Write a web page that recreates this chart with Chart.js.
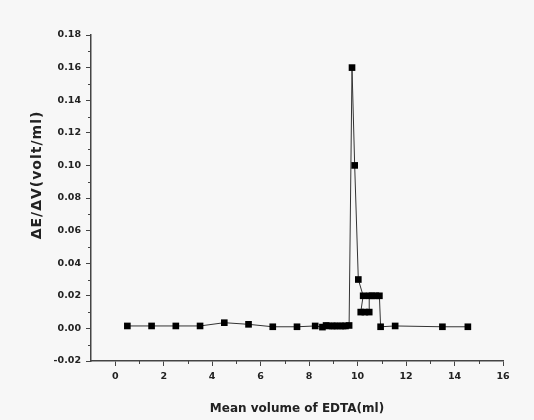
<!DOCTYPE html>
<html>
<head>
<meta charset="utf-8">
<script src="https://cdn.jsdelivr.net/npm/chart.js@4/dist/chart.umd.min.js"></script>
<style>
  html, body { margin: 0; padding: 0; background: #f7f7f7; }
  canvas { display: block; }
</style>
</head>
<body>
<canvas id="chart" width="534" height="420"></canvas>
<script>
// Mean volume of EDTA (ml) and dE/dV (volt/ml), in titration order
const volumes = [
    0.5, 1.5, 2.5, 3.5, 4.5, 5.5, 6.5, 7.5,
    8.25, 8.55, 8.7, 8.8, 8.95, 9.05, 9.15, 9.3, 9.4, 9.5, 9.65,
    9.77, 9.88, 10.03,
    10.23, 10.13, 10.3, 10.48, 10.48, 10.6, 10.75, 10.9,
    10.95, 11.55, 13.5, 14.55
];
const dEdV = [
    0.0015, 0.0015, 0.0015, 0.0015, 0.0035, 0.0025, 0.001, 0.001,
    0.0015, 0.0008, 0.0018, 0.0015, 0.0015, 0.0015, 0.0015, 0.0015, 0.0015, 0.0015, 0.0018,
    0.16, 0.10, 0.03,
    0.02, 0.01, 0.01, 0.01, 0.02, 0.02, 0.02, 0.02,
    0.001, 0.0015, 0.001, 0.001
];

const xTitle = 'Mean volume of EDTA(ml)';
const yTitle = 'ΔE/ΔV(volt/ml)';
const xMinorTicks = [1, 3, 5, 7, 9, 11, 13, 15];
const yMinorTicks = [-0.01, 0.01, 0.03, 0.05, 0.07, 0.09, 0.11, 0.13, 0.15, 0.17];

const axisColor = '#444';
const fontFamily = '"DejaVu Sans", Verdana, sans-serif';

// minor ticks, drawn outward through the scales
const minorTicks = {
    id: 'minorTicks',
    afterDraw(chart) {
        const ctx = chart.ctx;
        const xs = chart.scales.x, ys = chart.scales.y;
        ctx.save();
        ctx.strokeStyle = axisColor;
        ctx.lineWidth = 1;
        ctx.beginPath();
        xMinorTicks.forEach(v => {
            const px = Math.round(xs.getPixelForValue(v)) + 0.5;
            ctx.moveTo(px, xs.top);
            ctx.lineTo(px, xs.top + 3);
        });
        yMinorTicks.forEach(v => {
            const py = Math.round(ys.getPixelForValue(v)) + 0.5;
            ctx.moveTo(ys.right, py);
            ctx.lineTo(ys.right - 3, py);
        });
        ctx.stroke();
        ctx.restore();
    }
};

// y axis title sits a bit above the middle in the original
const yTitlePlugin = {
    id: 'yTitle',
    afterDraw(chart) {
        const ctx = chart.ctx;
        ctx.save();
        ctx.translate(37, 175);
        ctx.rotate(-Math.PI / 2);
        ctx.font = 'bold 14px ' + fontFamily;
        ctx.letterSpacing = '1px';
        ctx.fillStyle = '#222';
        ctx.textAlign = 'center';
        ctx.textBaseline = 'middle';
        ctx.fillText(yTitle, 0, 0);
        ctx.restore();
    }
};

new Chart(document.getElementById('chart').getContext('2d'), {
    type: 'line',
    data: {
        datasets: [{
            data: volumes.map((v, i) => ({ x: v, y: dEdV[i] })),
            borderColor: '#333',
            borderWidth: 1,
            backgroundColor: '#000',
            pointBackgroundColor: '#000',
            pointBorderColor: '#000',
            pointBorderWidth: 0,
            pointStyle: 'rect',
            pointRadius: 4.7,
            tension: 0,
            fill: false
        }]
    },
    options: {
        responsive: false,
        animation: false,
        devicePixelRatio: 1,
        layout: { padding: { left: 0, right: 31, top: 35, bottom: 0 } },
        plugins: {
            legend: { display: false },
            tooltip: { enabled: false }
        },
        scales: {
            x: {
                type: 'linear',
                min: -1,
                max: 16,
                afterFit: s => { s.height = 59; },
                border: { display: true, color: axisColor, width: 1.5 },
                grid: { drawOnChartArea: false, drawTicks: true, tickLength: 5, color: axisColor },
                ticks: {
                    stepSize: 2,
                    includeBounds: false,
                    padding: 5,
                    color: '#222',
                    font: { family: fontFamily, size: 9.5, weight: 'bold' },
                    maxRotation: 0
                },
                title: {
                    display: true,
                    text: xTitle,
                    color: '#222',
                    font: { family: fontFamily, size: 12, weight: 'bold' }
                }
            },
            y: {
                min: -0.02,
                max: 0.18,
                afterFit: s => { s.width = 91; },
                border: { display: true, color: axisColor, width: 1.5 },
                grid: { drawOnChartArea: false, drawTicks: true, tickLength: 5, color: axisColor },
                ticks: {
                    stepSize: 0.02,
                    padding: 5,
                    color: '#222',
                    font: { family: fontFamily, size: 9.5, weight: 'bold' },
                    callback: v => (Math.abs(v) < 1e-9 ? 0 : v).toFixed(2)
                }
            }
        }
    },
    plugins: [minorTicks, yTitlePlugin]
});
</script>
</body>
</html>
